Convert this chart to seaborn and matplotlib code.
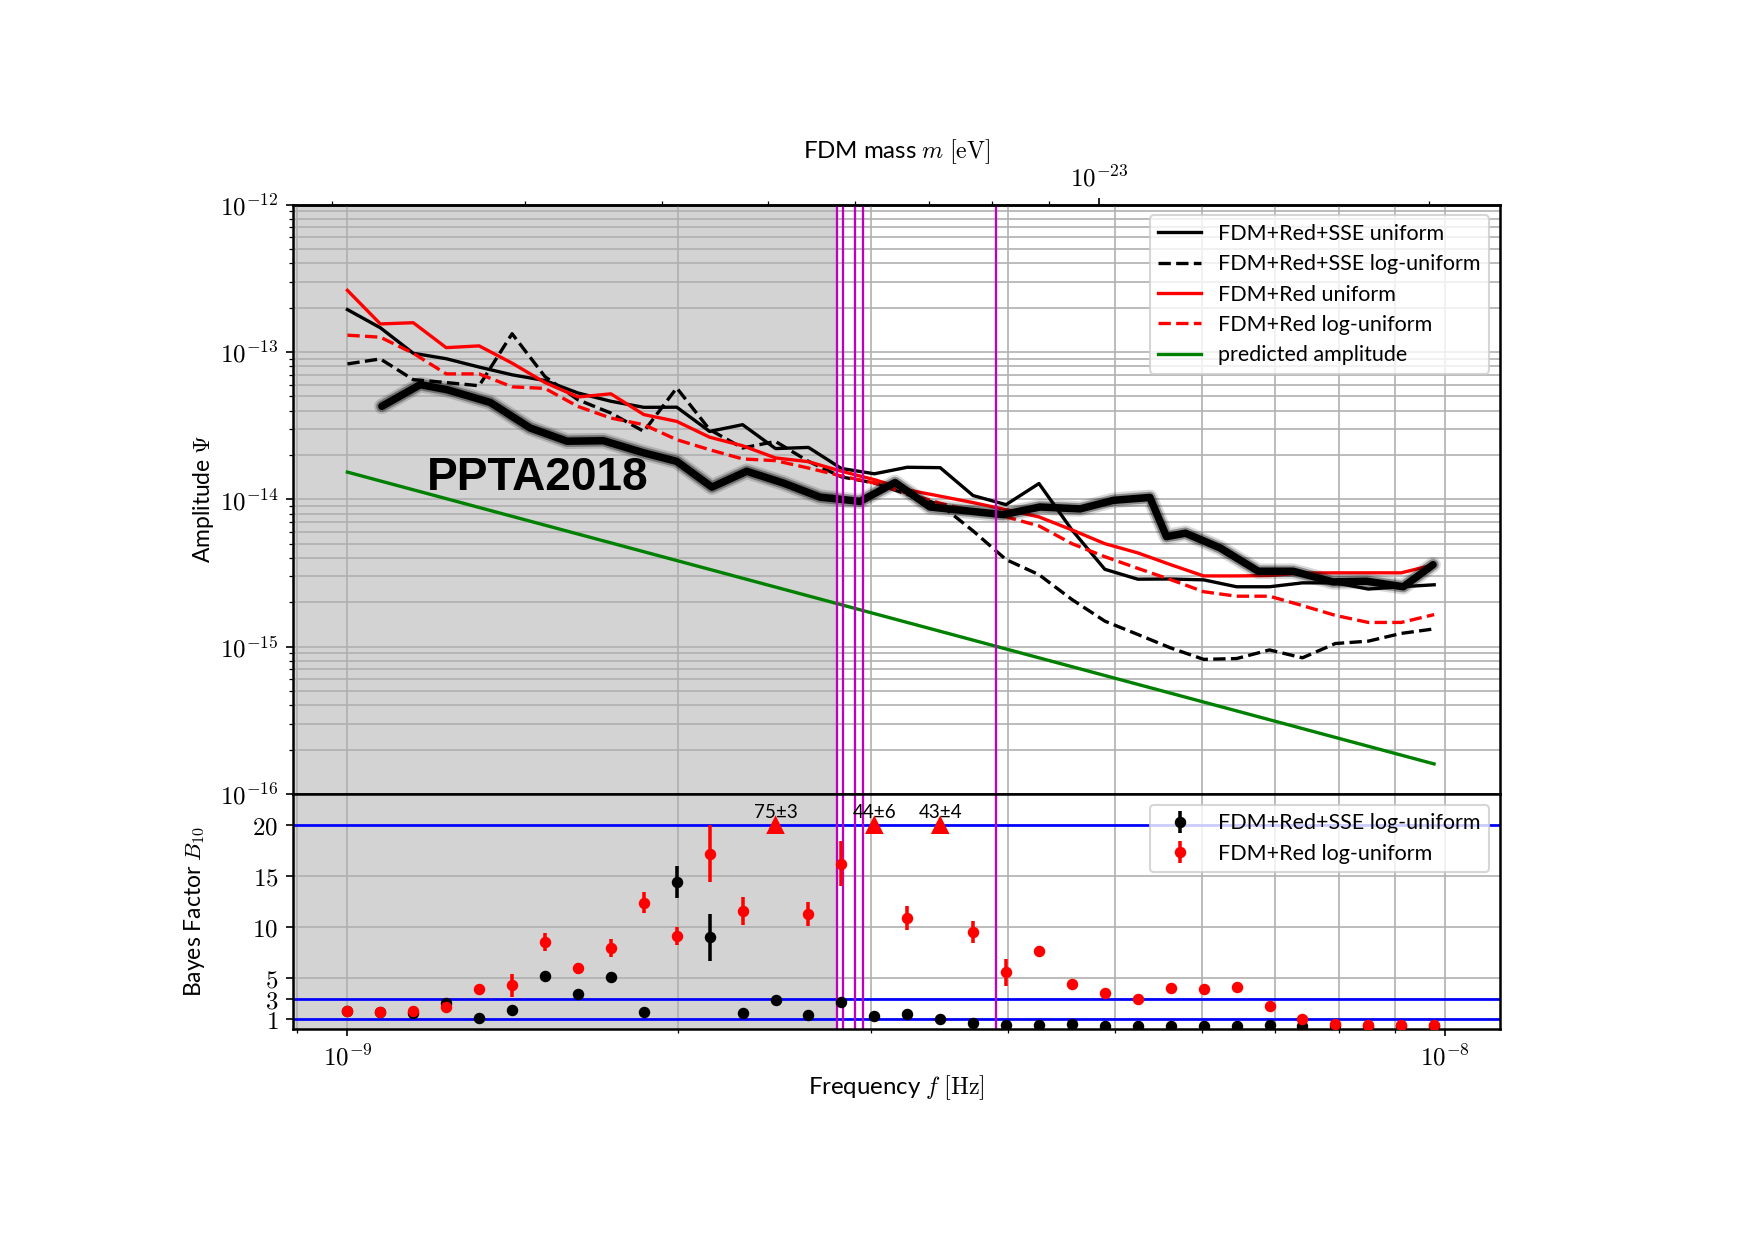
import numpy as np
import matplotlib
matplotlib.use("Agg")
import matplotlib.pyplot as plt
import seaborn as sns
from matplotlib.lines import Line2D
from matplotlib.ticker import FuncFormatter, NullFormatter, FixedLocator

# ---------------- data ----------------
# frequency grid (Hz), log-spaced bins
freq = 10 ** np.linspace(-9.0, -8.01, 34)

amp_sse_uniform = [1.94e-13, 1.46e-13, 9.8e-14, 9.0e-14, 7.9e-14, 7.0e-14, 6.4e-14, 5.27e-14,
                   4.63e-14, 4.21e-14, 4.22e-14, 2.89e-14, 3.21e-14, 2.21e-14, 2.25e-14, 1.62e-14,
                   1.49e-14, 1.65e-14, 1.64e-14, 1.06e-14, 9.2e-15, 1.28e-14, 6.2e-15, 3.35e-15,
                   2.87e-15, 2.88e-15, 2.84e-15, 2.55e-15, 2.55e-15, 2.71e-15, 2.71e-15, 2.46e-15,
                   2.55e-15, 2.63e-15]
amp_sse_log = [8.3e-14, 8.97e-14, 6.49e-14, 6.2e-14, 5.9e-14, 1.33e-13, 6.8e-14, 4.74e-14,
               3.85e-14, 2.89e-14, 5.7e-14, 2.97e-14, 2.23e-14, 2.47e-14, 1.81e-14, 1.42e-14,
               1.29e-14, 1.08e-14, 9.2e-15, 6.1e-15, 3.9e-15, 3.08e-15, 2.09e-15, 1.49e-15,
               1.21e-15, 9.8e-16, 8.2e-16, 8.3e-16, 9.5e-16, 8.4e-16, 1.05e-15, 1.09e-15,
               1.23e-15, 1.32e-15]
amp_red_uniform = [2.62e-13, 1.55e-13, 1.58e-13, 1.07e-13, 1.10e-13, 8.4e-14, 6.2e-14, 4.95e-14,
                   5.2e-14, 3.76e-14, 3.38e-14, 2.64e-14, 2.31e-14, 1.91e-14, 1.80e-14, 1.55e-14,
                   1.36e-14, 1.16e-14, 1.05e-14, 9.5e-15, 8.5e-15, 7.6e-15, 6.2e-15, 5.0e-15,
                   4.33e-15, 3.6e-15, 3.02e-15, 3.02e-15, 3.04e-15, 3.16e-15, 3.17e-15, 3.17e-15,
                   3.17e-15, 3.6e-15]
amp_red_log = [1.30e-13, 1.26e-13, 9.8e-14, 7.1e-14, 7.1e-14, 5.8e-14, 5.66e-14, 4.27e-14,
               3.56e-14, 3.21e-14, 2.54e-14, 2.17e-14, 1.88e-14, 1.83e-14, 1.63e-14, 1.44e-14,
               1.29e-14, 1.10e-14, 9.4e-15, 8.3e-15, 7.6e-15, 6.6e-15, 5.0e-15, 4.08e-15,
               3.4e-15, 2.85e-15, 2.36e-15, 2.2e-15, 2.2e-15, 1.9e-15, 1.63e-15, 1.46e-15,
               1.46e-15, 1.65e-15]

# predicted amplitude (straight power law): end points
pred_freq = [1.0e-9, 9.77e-9]
pred_amp = [1.53e-14, 1.60e-16]

# PPTA2018 upper limit curve
ppta_freq = [1.075e-9, 1.165e-9, 1.232e-9, 1.349e-9, 1.467e-9, 1.585e-9, 1.711e-9, 1.861e-9,
             1.995e-9, 2.148e-9, 2.311e-9, 2.495e-9, 2.695e-9, 2.931e-9, 3.154e-9, 3.394e-9,
             3.958e-9, 4.274e-9, 4.650e-9, 4.985e-9, 5.383e-9, 5.574e-9, 5.80e-9, 6.237e-9,
             6.757e-9, 7.27e-9, 7.905e-9, 8.48e-9, 9.16e-9, 9.75e-9]
ppta_amp = [4.28e-14, 6.0e-14, 5.55e-14, 4.55e-14, 3.05e-14, 2.48e-14, 2.50e-14, 2.07e-14,
            1.81e-14, 1.21e-14, 1.55e-14, 1.29e-14, 1.035e-14, 9.68e-15, 1.30e-14, 8.87e-15,
            7.87e-15, 8.87e-15, 8.61e-15, 9.84e-15, 1.03e-14, 5.58e-15, 5.89e-15, 4.68e-15,
            3.25e-15, 3.25e-15, 2.75e-15, 2.78e-15, 2.55e-15, 3.6e-15]

# Bayes factors
bf_sse = [1.75, 1.66, 1.57, 2.54, 1.07, 1.88, 5.23, 3.41, 5.13, 1.69, 14.41, 8.98, 1.6, 2.86,
          1.36, 2.7, 1.33, 1.46, 1.0, 0.65, 0.42, 0.42, 0.49, 0.36, 0.36, 0.36, 0.33, 0.36,
          0.42, 0.33, 0.35, 0.35, 0.35, 0.35]
bf_sse_err = [0.15, 0.15, 0.15, 0.15, 0.1, 0.15, 0.15, 0.2, 0.5, 0.1, 1.6, 2.3, 0.1, 0.4,
              0.1, 0.15, 0.1, 0.1, 0.1, 0.1, 0.1, 0.1, 0.1, 0.1, 0.1, 0.1, 0.1, 0.1,
              0.1, 0.1, 0.1, 0.1, 0.1, 0.1]
bf_red = [1.82, 1.72, 1.82, 2.21, 3.93, 4.29, 8.55, 5.95, 7.97, 12.39, 9.1, 17.17, 11.55, 75,
          11.25, 16.2, 44, 10.9, 43, 9.5, 5.56, 7.68, 4.39, 3.51, 2.96, 4.06, 3.96, 4.16,
          2.27, 0.97, 0.52, 0.42, 0.42, 0.42]
bf_red_err = [0.15, 0.15, 0.15, 0.2, 0.25, 1.1, 0.85, 0.5, 0.9, 1.0, 0.9, 2.8, 1.4, 3,
              1.2, 2.2, 6, 1.2, 4, 1.1, 1.3, 0.5, 0.3, 0.3, 0.2, 0.3, 0.3, 0.3,
              0.3, 0.2, 0.15, 0.15, 0.15, 0.15]

bf_thresholds = [1, 3, 20]
mass_lines = [2.79e-9, 2.83e-9, 2.90e-9, 2.95e-9, 3.90e-9]   # Hz
excluded_upper = 2.79e-9
xlim = (8.92e-10, 1.122e-8)

HBAR_PI = 2.0678e-15  # eV s  (m = pi * hbar * f)

# ---------------- style ----------------
plt.rcParams["font.family"] = ["Lato", "DejaVu Sans"]
plt.rcParams["mathtext.fontset"] = "cm"
plt.rcParams["axes.linewidth"] = 1.2

fig = plt.figure(figsize=(1754 / 150, 1241 / 150), dpi=150)
ax1 = fig.add_axes([0.1670, 0.3602, 0.6882, 0.4749])
ax2 = fig.add_axes([0.1670, 0.1706, 0.6882, 0.1896], sharex=ax1)

for ax in (ax1, ax2):
    ax.set_xscale("log")
    ax.axvspan(xlim[0], excluded_upper, color="lightgray", zorder=0, lw=0)
    ax.grid(True, which="both", color="#b0b0b0", lw=0.8)
    for m in mass_lines:
        ax.axvline(m, color="m", lw=1.1, zorder=2.5)

ax1.set_yscale("log")

# ---- top panel lines (seaborn) ----
sns.lineplot(x=freq, y=amp_sse_uniform, ax=ax1, color="k", lw=1.6, estimator=None, sort=False)
sns.lineplot(x=freq, y=amp_sse_log, ax=ax1, color="k", lw=1.6, linestyle="--", estimator=None, sort=False)
sns.lineplot(x=freq, y=amp_red_uniform, ax=ax1, color="r", lw=1.6, estimator=None, sort=False)
sns.lineplot(x=freq, y=amp_red_log, ax=ax1, color="r", lw=1.6, linestyle="--", estimator=None, sort=False)
sns.lineplot(x=pred_freq, y=pred_amp, ax=ax1, color="g", lw=1.6, estimator=None, sort=False)

# PPTA2018 (blurred thick curve)
for lw, a in [(7.5, 0.15), (5.5, 0.35), (3.6, 1.0)]:
    ax1.plot(ppta_freq, ppta_amp, color="k", lw=lw, alpha=a, solid_capstyle="round",
             solid_joinstyle="round", zorder=2.2)
ax1.text(1.182e-9, 1.40e-14, "PPTA2018", fontsize=22, fontweight="bold",
         family=["Liberation Sans", "DejaVu Sans"], ha="left", va="center", zorder=4)

ax1.set_xlim(*xlim)
ax1.set_ylim(1e-16, 1e-12)
ax1.tick_params(labelbottom=False)
ax1.yaxis.set_major_formatter(FuncFormatter(lambda v, p: r"$10^{%d}$" % int(round(np.log10(v)))))
ax1.yaxis.set_minor_formatter(NullFormatter())
ax1.tick_params(axis="y", which="major", labelsize=12)
ax1.set_ylabel(r"Amplitude $\Psi$", fontsize=11)
ax1.yaxis.set_label_coords(-0.064, 0.5)

handles = [Line2D([], [], color="k", lw=1.6),
           Line2D([], [], color="k", lw=1.6, ls="--"),
           Line2D([], [], color="r", lw=1.6),
           Line2D([], [], color="r", lw=1.6, ls="--"),
           Line2D([], [], color="g", lw=1.6)]
labels = ["FDM+Red+SSE uniform", "FDM+Red+SSE log-uniform", "FDM+Red uniform",
          "FDM+Red log-uniform", "predicted amplitude"]
ax1.legend(handles, labels, loc="upper right", fontsize=10.3, labelspacing=0.48)

# secondary axis: FDM mass
sec = ax1.secondary_xaxis("top", functions=(lambda f: f * HBAR_PI, lambda m: m / HBAR_PI))
sec.xaxis.set_major_formatter(FuncFormatter(lambda v, p: r"$10^{%d}$" % int(round(np.log10(v)))))
sec.xaxis.set_minor_formatter(NullFormatter())
sec.tick_params(labelsize=12)
sec.set_xlabel(r"FDM mass $m$ $[\mathrm{eV}]$", fontsize=11.5, labelpad=3)

# ---- bottom panel ----
freq_arr = np.asarray(freq)
bf_red_arr = np.asarray(bf_red)
bf_red_err_arr = np.asarray(bf_red_err)
inside = bf_red_arr <= 20
outside = ~inside

for y in bf_thresholds:
    ax2.axhline(y, color="b", lw=1.3, zorder=2)

ax2.errorbar(freq_arr, bf_sse, yerr=bf_sse_err, fmt="o", color="k", ms=4.5, elinewidth=1.7,
             capsize=0, zorder=3, label="FDM+Red+SSE log-uniform")
ax2.errorbar(freq_arr[inside], bf_red_arr[inside], yerr=bf_red_err_arr[inside], fmt="o",
             color="r", ms=4.5, elinewidth=1.7, capsize=0, zorder=3.1, label="FDM+Red log-uniform")
sns.scatterplot(x=freq_arr[outside], y=np.full(outside.sum(), 20.0), ax=ax2, marker="^",
                color="r", s=80, edgecolor="none", zorder=3.2, legend=False)
for f, v, e in zip(freq_arr[outside], bf_red_arr[outside], bf_red_err_arr[outside]):
    ax2.annotate(f"{v:g}\u00b1{e:g}", (f, 20), xytext=(0, 2.0), textcoords="offset points",
                 ha="center", va="bottom", fontsize=9)

ax2.set_ylim(0, 23)
ax2.yaxis.set_major_locator(FixedLocator([1, 3, 5, 10, 15, 20]))
ax2.yaxis.set_major_formatter(FuncFormatter(lambda v, p: r"$%d$" % int(round(v))))
ax2.xaxis.set_major_formatter(FuncFormatter(lambda v, p: r"$10^{%d}$" % int(round(np.log10(v)))))
ax2.xaxis.set_minor_formatter(NullFormatter())
ax2.tick_params(labelsize=12)
ax2.set_xlim(*xlim)
ax2.set_ylabel(r"Bayes Factor $B_{10}$", fontsize=11)
ax2.yaxis.set_label_coords(-0.071, 0.5)
ax2.set_xlabel(r"Frequency $f$ $[\mathrm{Hz}]$", fontsize=11.5, labelpad=2)
ax2.legend(loc="upper right", fontsize=10.3, labelspacing=0.48)

fig.savefig("out.png", dpi=150)
